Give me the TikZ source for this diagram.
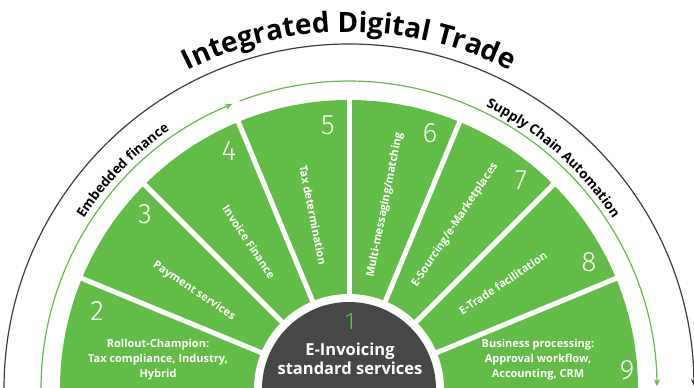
\documentclass[tikz,border=0pt]{standalone}
\usepackage{fontspec}
\setmainfont{Open Sans}
\newfontfamily\numfont{Fira Sans Light}
\usetikzlibrary{decorations.text,arrows.meta,calc}
\definecolor{tgreen}{RGB}{99,187,72}
\definecolor{tdark}{RGB}{71,71,71}
\definecolor{tline}{RGB}{60,60,60}
\begin{document}
\begin{tikzpicture}[x=1pt,y=1pt,
  lbl/.style={text=white,font=\fontsize{11}{15}\selectfont\bfseries,inner sep=0pt,align=center},
  num/.style={text=white,font=\fontsize{28}{28}\selectfont\numfont,inner sep=0pt},
  divider/.style={white,line width=5pt},
  ring/.style={line width=1.2pt}]
\useasboundingbox (0,0) rectangle (694,388);
\coordinate (C) at (349,-1);
\begin{scope}
\clip (0,0) rectangle (694,388);
\fill[tgreen] (C) circle[radius=289];
\foreach \a in {22.5,45,...,157.5} \draw[divider] (C) -- ++(\a:300);
\fill[white] (C) circle[radius=95];
\fill[tdark] (C) circle[radius=87];
\end{scope}
% arcs
\draw[tgreen,ring,-{Stealth[length=7pt,width=6pt]}] ($(C)+(180:308)$) arc[start angle=180,end angle=112.3,radius=308];
\draw[tgreen,ring,-{Stealth[length=7pt,width=6pt]}] ($(C)+(110.8:308)$) arc[start angle=110.8,end angle=0.5,radius=308];
\draw[tline,ring,-{Stealth[length=7pt,width=6pt]}] ($(C)+(180:345)$) arc[start angle=180,end angle=0.5,radius=345];
% curved texts
\path[decorate,decoration={text along path,text align=center,text={|\fontsize{28}{28}\selectfont\bfseries|Integrated Digital Trade}}]
  ($(C)+(125:357)$) arc[start angle=125,end angle=55,radius=357];
\path[decorate,decoration={text along path,text align=center,text={|\fontsize{13.5}{13.5}\selectfont\bfseries|Embedded finance}}]
  ($(C)+(165:315)$) arc[start angle=165,end angle=107,radius=315];
\path[decorate,decoration={text along path,text align=center,text={|\fontsize{13.5}{13.5}\selectfont\bfseries|Supply Chain Automation}}]
  ($(C)+(78:314)$) arc[start angle=78,end angle=19,radius=314];
% numbers
\node[num] (n2) at (97,77) {2};
\node[num] (n3) at (145,174) {3};
\node[num] (n4) at (229,237) {4};
\node[num] (n5) at (328,263) {5};
\node[num] (n6) at (430,255) {6};
\node[num] (n7) at (521,208) {7};
\node[num] (n8) at (589,126) {8};
\node[num] (n9) at (627,18) {9};
% labels
\node[lbl] (l2) at (158,28) {Rollout-Champion:\\Tax compliance, Industry,\\Hybrid};
\node[lbl,rotate=-33.75] (l3) at (194,97) {Payment services};
\node[lbl,rotate=-56.25] (l4) at (249,146) {Invoice Finance};
\node[lbl,rotate=-78.75] (l5) at (313,173) {Tax determination};
\node[lbl,rotate=78.75] (l6) at (385,183) {Multi-messaging/matching};
\node[lbl,rotate=56.25] (l7) at (455,163) {E-Sourcing/e-Marketplaces};
\node[lbl,rotate=33.75] (l8) at (503,105) {E-Trade facilitation};
\node[lbl] (l9) at (538,28) {Business processing:\\Approval workflow,\\Accounting, CRM};
% center
\node[text=tgreen,font=\fontsize{24}{24}\selectfont\numfont,inner sep=0pt] (n1) at (350,66) {1};
\node[text=white,font=\fontsize{16.5}{19}\selectfont\bfseries,align=center,inner sep=0pt] (c1) at (350,29) {E-Invoicing\\standard services};
\end{tikzpicture}
\end{document}
